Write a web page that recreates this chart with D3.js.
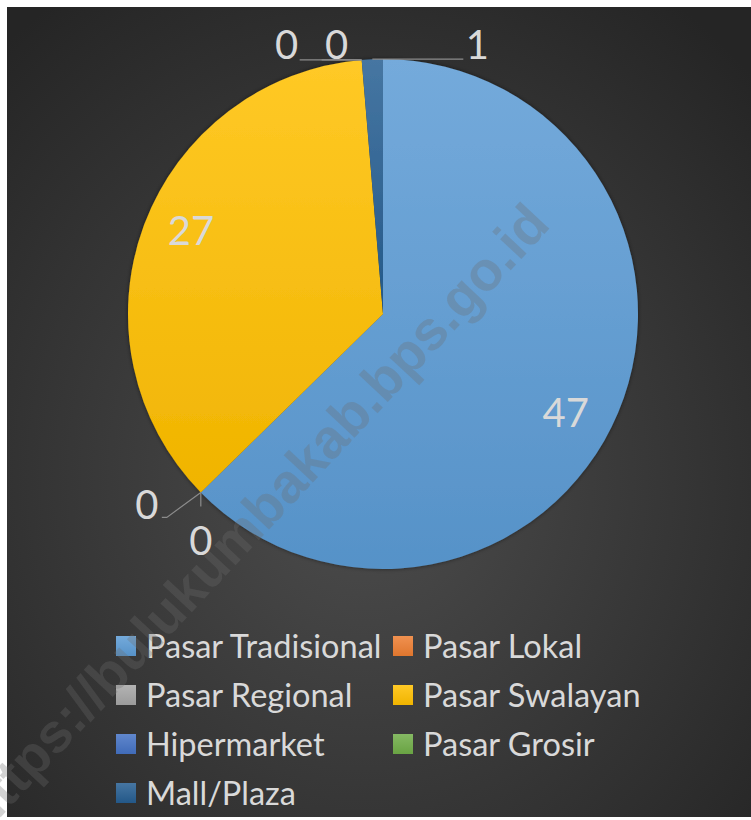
<!DOCTYPE html>
<html>
<head>
<meta charset="utf-8">
<script src="https://cdn.jsdelivr.net/npm/d3@7"></script>
<style>
  body { margin: 0; background: #fff; }
  svg { display: block; }
</style>
</head>
<body>
<script>
var categories = ['Pasar Tradisional', 'Pasar Lokal', 'Pasar Regional', 'Pasar Swalayan', 'Hipermarket', 'Pasar Grosir', 'Mall/Plaza']
var values     = [47, 0, 0, 27, 0, 0, 1]
var colors     = ['#5b9bd5', '#ed7d31', '#a5a5a5', '#ffc000', '#4472c4', '#70ad47', '#255e91']
var watermark  = 'https://bulukumbakab.bps.go.id'

var W = 751, H = 820
var svg = d3.select('body').append('svg').attr('width', W).attr('height', H)
var defs = svg.append('defs')

// dark radial backdrop
var bg = defs.append('radialGradient').attr('id', 'bg').attr('cx', '48%').attr('cy', '58%').attr('r', '72%')
bg.append('stop').attr('offset', '0%').attr('stop-color', '#4d4d4d')
bg.append('stop').attr('offset', '100%').attr('stop-color', '#252525')
svg.append('rect').attr('x', 7).attr('y', 7).attr('width', W - 7).attr('height', 810).attr('fill', 'url(#bg)')

// each slice: lighter on top, darker at bottom
colors.forEach(function(c, i){
  var g = defs.append('linearGradient').attr('id', 'sl' + i).attr('x1', 0).attr('y1', 0).attr('x2', 0).attr('y2', 1)
  g.append('stop').attr('offset', '0%').attr('stop-color', d3.interpolateRgb(c, '#fff')(0.15))
  g.append('stop').attr('offset', '100%').attr('stop-color', d3.interpolateRgb(c, '#000')(0.06))
})

var cx = 383, cy = 314, r = 255

var data = categories.map(function(d, i){ return {name: d, value: values[i], i: i} })
var pie = d3.pie().sort(null).value(function(d){ return d.value })
var arcs = pie(data)
var arc = d3.arc().innerRadius(0).outerRadius(r)
var labelArc = d3.arc().innerRadius(r * 0.82).outerRadius(r * 0.82)

var shadow = defs.append('filter').attr('id', 'sh').attr('x', '-10%').attr('y', '-10%').attr('width', '120%').attr('height', '120%')
shadow.append('feDropShadow').attr('dx', 0).attr('dy', 0).attr('stdDeviation', 2).attr('flood-color', '#000').attr('flood-opacity', 0.5)

var chart = svg.append('g').attr('transform', 'translate(' + cx + ',' + cy + ')')

chart.append('g').attr('filter', 'url(#sh)').selectAll('path')
  .data(arcs.filter(function(d){ return d.value > 0 }))
  .join('path')
    .attr('d', arc)
    .attr('fill', function(d){ return 'url(#sl' + d.data.i + ')' })

// label layout: nudges for inside labels, leaders for the tiny slices
var inside = {
  'Pasar Tradisional': {dx: -10, dy: 18},
  'Pasar Swalayan':    {dx: 4,   dy: -11}
}
var outside = {
  'Pasar Lokal':    {dx: 0,   dy: 48, leader: [[0, 0], [0, 14]]},
  'Pasar Regional': {dx: -54, dy: 12, leader: [[0, 0], [-34, 25], [-39, 25]]},
  'Hipermarket':    {dx: -75, dy: -15, leader: [[0, 0], [-62, 0]]},
  'Pasar Grosir':   {dx: -25, dy: -15, leader: [[0, 0], [-40, 0]]},
  'Mall/Plaza':     {dx: 105, dy: -15, leader: [[0, 0], [91, 0]]}
}

var labelFont = 'Lato, "Open Sans", sans-serif'

arcs.forEach(function(d){
  var o = outside[d.data.name]
  var p
  if (o) {
    var a = (d.startAngle + d.endAngle) / 2
    var edge = [Math.sin(a) * r, -Math.cos(a) * r]
    chart.append('path')
      .attr('d', d3.line()(o.leader.map(function(q){ return [edge[0] + q[0], edge[1] + q[1]] })))
      .attr('fill', 'none').attr('stroke', '#8c8c8c').attr('stroke-width', 1.2)
    p = [edge[0] + o.dx, edge[1] + o.dy]
  } else {
    var c = labelArc.centroid(d), n = inside[d.data.name] || {dx: 0, dy: 0}
    p = [c[0] + n.dx, c[1] + n.dy]
  }
  chart.append('text')
    .attr('x', p[0]).attr('y', p[1])
    .attr('text-anchor', 'middle').attr('dy', '0.36em')
    .style('font-family', labelFont).style('font-size', '40px')
    .style('fill', '#d9d9d9')
    .text(d.value)
})

// legend, two columns
var legend = svg.append('g')
var colX = [116, 393], rowY = 646, rowH = 49
data.forEach(function(d, i){
  var g = legend.append('g').attr('transform', 'translate(' + colX[i % 2] + ',' + (rowY + Math.floor(i / 2) * rowH) + ')')
  g.append('rect').attr('x', 0).attr('y', -10).attr('width', 20).attr('height', 20).attr('fill', 'url(#sl' + i + ')')
  g.append('text').attr('x', 30).attr('dy', '0.36em')
    .style('font-family', labelFont).style('font-size', '32.5px').style('fill', '#d9d9d9')
    .text(d.name)
})

// site watermark
svg.append('text')
  .attr('transform', 'translate(552,226) rotate(-47)')
  .attr('text-anchor', 'end')
  .style('font-family', '"Liberation Sans", Arial, sans-serif').style('font-weight', 'bold').style('font-size', '55px')
  .style('fill', '#6e6e6e').style('fill-opacity', 0.3)
  .text(watermark)
</script>
</body>
</html>
